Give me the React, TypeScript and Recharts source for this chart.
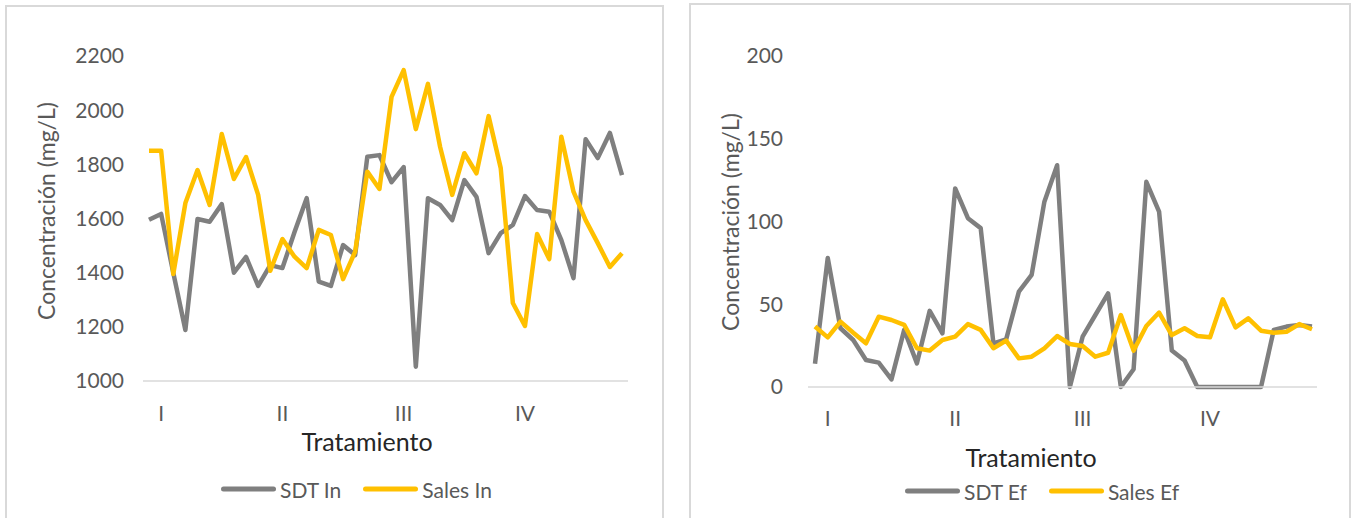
import { LineChart, Line, XAxis, YAxis } from "recharts";

// Concentraciones afluente (mg/L), 40 muestras
const sdtIn = [
  1595, 1617, 1400, 1188, 1598, 1588, 1653, 1400, 1458, 1351,
  1428, 1417, 1550, 1675, 1367, 1351, 1502, 1465, 1828, 1834,
  1734, 1790, 1053, 1675, 1650, 1594, 1742, 1680, 1472, 1546,
  1576, 1683, 1631, 1625, 1520, 1380, 1893, 1823, 1916, 1760,
];
const salesIn = [
  1850, 1850, 1395, 1657, 1779, 1650, 1912, 1746, 1827, 1687,
  1407, 1524, 1459, 1417, 1558, 1539, 1376, 1478, 1773, 1709,
  2049, 2148, 1930, 2097, 1865, 1687, 1841, 1767, 1978, 1786,
  1288, 1203, 1543, 1450, 1902, 1699, 1594, 1509, 1421, 1472,
];

// Concentraciones efluente (mg/L)
const sdtEf = [
  14, 78, 35.5, 28.4, 16.3, 14.7, 4.6, 34.5, 14.3, 46,
  32.4, 120, 102, 96, 26.4, 28.8, 57.6, 67.7, 112, 134,
  0, 30.4, 43.5, 56.6, 0, 10.7, 124, 106, 22, 16,
  0, 0, 0, 0, 0, 0, 34.5, 36.5, 37.5, 36.5,
];
const salesEf = [
  36.5, 30, 39.5, 32.8, 26.4, 42.5, 40.5, 37.5, 23.4, 22,
  28.4, 30.4, 38, 34.5, 23.4, 28, 17.3, 18.3, 23.4, 30.8,
  26, 24.8, 18.3, 20.7, 43.5, 22, 36.9, 45, 31.4, 35.5,
  30.8, 30, 53, 36, 41.5, 34, 32.8, 33.4, 38, 34.9,
];

const tratamientos = ["I", "II", "III", "IV"];
const muestrasTratamiento = [2, 12, 22, 32];
const yTicksIn = [1000, 1200, 1400, 1600, 1800, 2000, 2200];
const yTicksEf = [0, 50, 100, 150, 200];

const GRAY = "#7f7f7f";
const GOLD = "#ffc000";
const TEXT = "#595959";
const FONT = "Lato, 'Open Sans', sans-serif";

const rows = (a: number[], b: number[]) =>
  a.map((v, i) => ({ muestra: i + 1, a: v, b: b[i] }));

const tickLabel = (v: number) => tratamientos[muestrasTratamiento.indexOf(v)] ?? "";

interface PanelProps {
  left: number;
  width: number;
  margin: { top: number; right: number; bottom: number; left: number };
  padding: { left: number; right: number };
  domain: [number, number];
  ticks: number[];
  yTickMargin: number;
  xTickMargin: number;
  names: [string, string];
  a: number[];
  b: number[];
}

function Panel({ left, width, margin, padding, domain, ticks, yTickMargin, xTickMargin, names, a, b }: PanelProps) {
  return (
    <div style={{ position: "absolute", left, top: 0 }}>
      <LineChart width={width} height={518} data={rows(a, b)} margin={margin}>
        <XAxis
          dataKey="muestra"
          type="number"
          domain={[1, 40]}
          ticks={muestrasTratamiento}
          interval={0}
          tickFormatter={tickLabel}
          padding={padding}
          height={30}
          axisLine={{ stroke: "#d9d9d9", strokeWidth: 1.5 }}
          tickLine={false}
          tickSize={0}
          tickMargin={xTickMargin}
          tick={{ fill: TEXT, fontSize: 21, fontFamily: FONT }}
        />
        <YAxis
          domain={domain}
          ticks={ticks}
          interval={0}
          width={60}
          axisLine={false}
          tickLine={false}
          tickSize={0}
          tickMargin={yTickMargin}
          tick={{ fill: TEXT, fontSize: 21, fontFamily: FONT }}
        />
        <Line dataKey="a" name={names[0]} stroke={GRAY} strokeWidth={4.5} dot={false} strokeLinejoin="round" isAnimationActive={false} />
        <Line dataKey="b" name={names[1]} stroke={GOLD} strokeWidth={4.5} dot={false} strokeLinejoin="round" isAnimationActive={false} />
      </LineChart>
    </div>
  );
}

function YTitle({ x, y }: { x: number; y: number }) {
  return (
    <div
      style={{
        position: "absolute",
        left: x,
        top: y,
        transform: "translate(-50%, -50%) rotate(-90deg)",
        whiteSpace: "nowrap",
        fontFamily: FONT,
        fontSize: 23,
        color: TEXT,
      }}
    >
      Concentración (mg/L)
    </div>
  );
}

function XTitle({ x, y }: { x: number; y: number }) {
  return (
    <div
      style={{
        position: "absolute",
        left: x,
        top: y,
        transform: "translate(-50%, -50%)",
        whiteSpace: "nowrap",
        fontFamily: FONT,
        fontSize: 25,
        color: "#262626",
      }}
    >
      Tratamiento
    </div>
  );
}

function LegendRow({ x, y, names }: { x: number; y: number; names: [string, string] }) {
  const swatch = (color: string) => (
    <span style={{ display: "inline-block", width: 55, height: 5, borderRadius: 3, background: color, marginRight: 4 }} />
  );
  return (
    <div
      style={{
        position: "absolute",
        left: x,
        top: y,
        transform: "translateY(-50%)",
        display: "flex",
        alignItems: "center",
        whiteSpace: "nowrap",
        fontFamily: FONT,
        fontSize: 21,
        color: TEXT,
      }}
    >
      {swatch(GRAY)}
      <span style={{ marginRight: 22 }}>{names[0]}</span>
      {swatch(GOLD)}
      <span>{names[1]}</span>
    </div>
  );
}

export default function App() {
  const border = "2px solid #d9d9d9";
  return (
    <div style={{ position: "fixed", left: 0, top: 0, width: 1352, height: 518, background: "#fff", overflow: "hidden" }}>
      <div style={{ position: "absolute", left: 5, top: 5, width: 659, height: 530, border, boxSizing: "border-box" }} />
      <div style={{ position: "absolute", left: 689, top: 3, width: 662, height: 530, border, boxSizing: "border-box" }} />

      <Panel
        left={0}
        width={664}
        margin={{ top: 56, right: 36, bottom: 107, left: 83 }}
        padding={{ left: 6, right: 6 }}
        domain={[1000, 2200]}
        ticks={yTicksIn}
        yTickMargin={19}
        xTickMargin={25}
        names={["SDT In", "Sales In"]}
        a={sdtIn}
        b={salesIn}
      />
      <YTitle x={46} y={211} />
      <XTitle x={367} y={441} />
      <LegendRow x={221} y={489} names={["SDT In", "Sales In"]} />

      <Panel
        left={676}
        width={676}
        margin={{ top: 56, right: 35, bottom: 101, left: 72 }}
        padding={{ left: 7, right: 5 }}
        domain={[0, 200]}
        ticks={yTicksEf}
        yTickMargin={25}
        xTickMargin={24}
        names={["SDT Ef", "Sales Ef"]}
        a={sdtEf}
        b={salesEf}
      />
      <YTitle x={730} y={222} />
      <XTitle x={1031} y={457} />
      <LegendRow x={905} y={491} names={["SDT Ef", "Sales Ef"]} />
    </div>
  );
}
